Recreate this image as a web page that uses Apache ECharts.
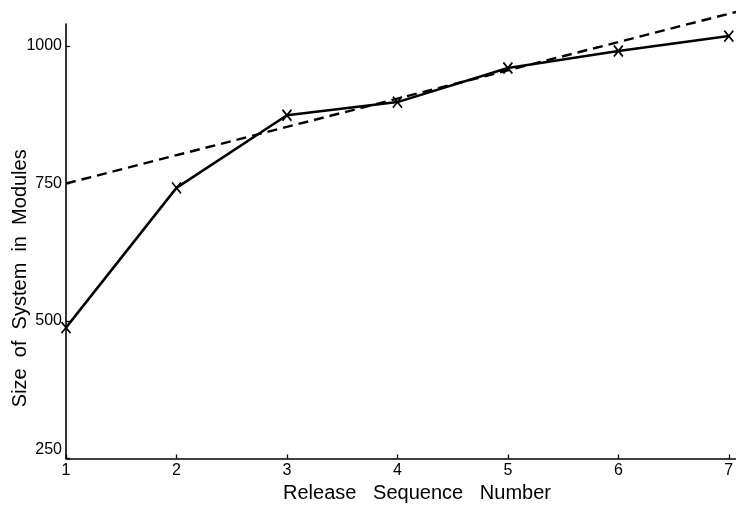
<!DOCTYPE html>
<html>
<head>
<meta charset="utf-8">
<script src="https://cdn.jsdelivr.net/npm/echarts@6/dist/echarts.min.js"></script>
<style>
  html, body { margin: 0; padding: 0; background: #fff; }
  #chart { width: 736px; height: 507px; }
</style>
</head>
<body>
<div id="chart"></div>
<script>
// System size per release
const releases = [1, 2, 3, 4, 5, 6, 7];
const modules = [488, 742, 874, 898, 960, 991, 1018];

// Straight-line trend (dashed), from the first release to the end of the axis
const trendX = [1, 7.065];
const trendY = [750, 1062];

// Axis ticks
const yTicks = [250, 500, 750, 1000];
const xTicks = [1, 2, 3, 4, 5, 6, 7];

const FONT = '"Liberation Sans", Arial, sans-serif';

const chart = echarts.init(document.getElementById('chart'), null, { renderer: 'canvas' });

chart.setOption({
  backgroundColor: '#ffffff',
  animation: false,
  grid: { left: 66, right: 0, top: 24, bottom: 48.5, containLabel: false, outerBoundsMode: 'none' },
  xAxis: {
    type: 'value',
    min: 1,
    max: 7.065,
    interval: 1,
    name: 'Release   Sequence   Number',
    nameLocation: 'middle',
    nameGap: 25,
    nameMoveOverlap: false,
    nameTextStyle: { color: '#000', fontFamily: FONT, fontSize: 20, padding: [0, 0, 0, 32] },
    axisLine: { lineStyle: { color: '#000', width: 1.6 } },
    axisTick: { inside: true, length: 4, lineStyle: { color: '#000', width: 1.3 } },
    splitLine: { show: false },
    axisLabel: {
      color: '#000', fontFamily: FONT, fontSize: 16, margin: 4,
      showMaxLabel: false,
      formatter: v => (xTicks.indexOf(v) >= 0 ? String(v) : '')
    }
  },
  yAxis: {
    type: 'value',
    min: 250,
    max: 1040,
    interval: 250,
    name: 'Size  of  System  in  Modules',
    nameLocation: 'middle',
    nameGap: 36,
    nameRotate: 90,
    nameMoveOverlap: false,
    nameTextStyle: { color: '#000', fontFamily: FONT, fontSize: 20, padding: [0, 74, 0, 0] },
    axisLine: { lineStyle: { color: '#000', width: 1.6 } },
    axisTick: { inside: true, length: 4, lineStyle: { color: '#000', width: 1.3 } },
    splitLine: { show: false },
    axisLabel: {
      color: '#000', fontFamily: FONT, fontSize: 16, margin: 4,
      showMaxLabel: false,
      formatter: v => {
        if (yTicks.indexOf(v) < 0) return '';
        return v === yTicks[0] ? '{low|' + v + '}' : String(v);
      },
      rich: {
        low: { color: '#000', fontFamily: FONT, fontSize: 16, padding: [0, 0, 18, 0] }
      }
    }
  },
  series: [
    {
      name: 'Trend',
      type: 'line',
      clip: false,
      data: trendX.map((x, i) => [x, trendY[i]]),
      showSymbol: false,
      symbol: 'none',
      lineStyle: { color: '#000', width: 2.4, type: [10, 6] },
      z: 2
    },
    {
      name: 'Modules',
      type: 'line',
      clip: false,
      data: releases.map((x, i) => [x, modules[i]]),
      symbol: 'path://M0,0L10,12M10,0L0,12',
      symbolSize: [9, 11],
      showSymbol: true,
      color: '#000',
      itemStyle: { color: '#000', borderColor: '#000', borderWidth: 1.8 },
      lineStyle: { color: '#000', width: 2.5 },
      z: 3
    }
  ]
});
</script>
</body>
</html>
